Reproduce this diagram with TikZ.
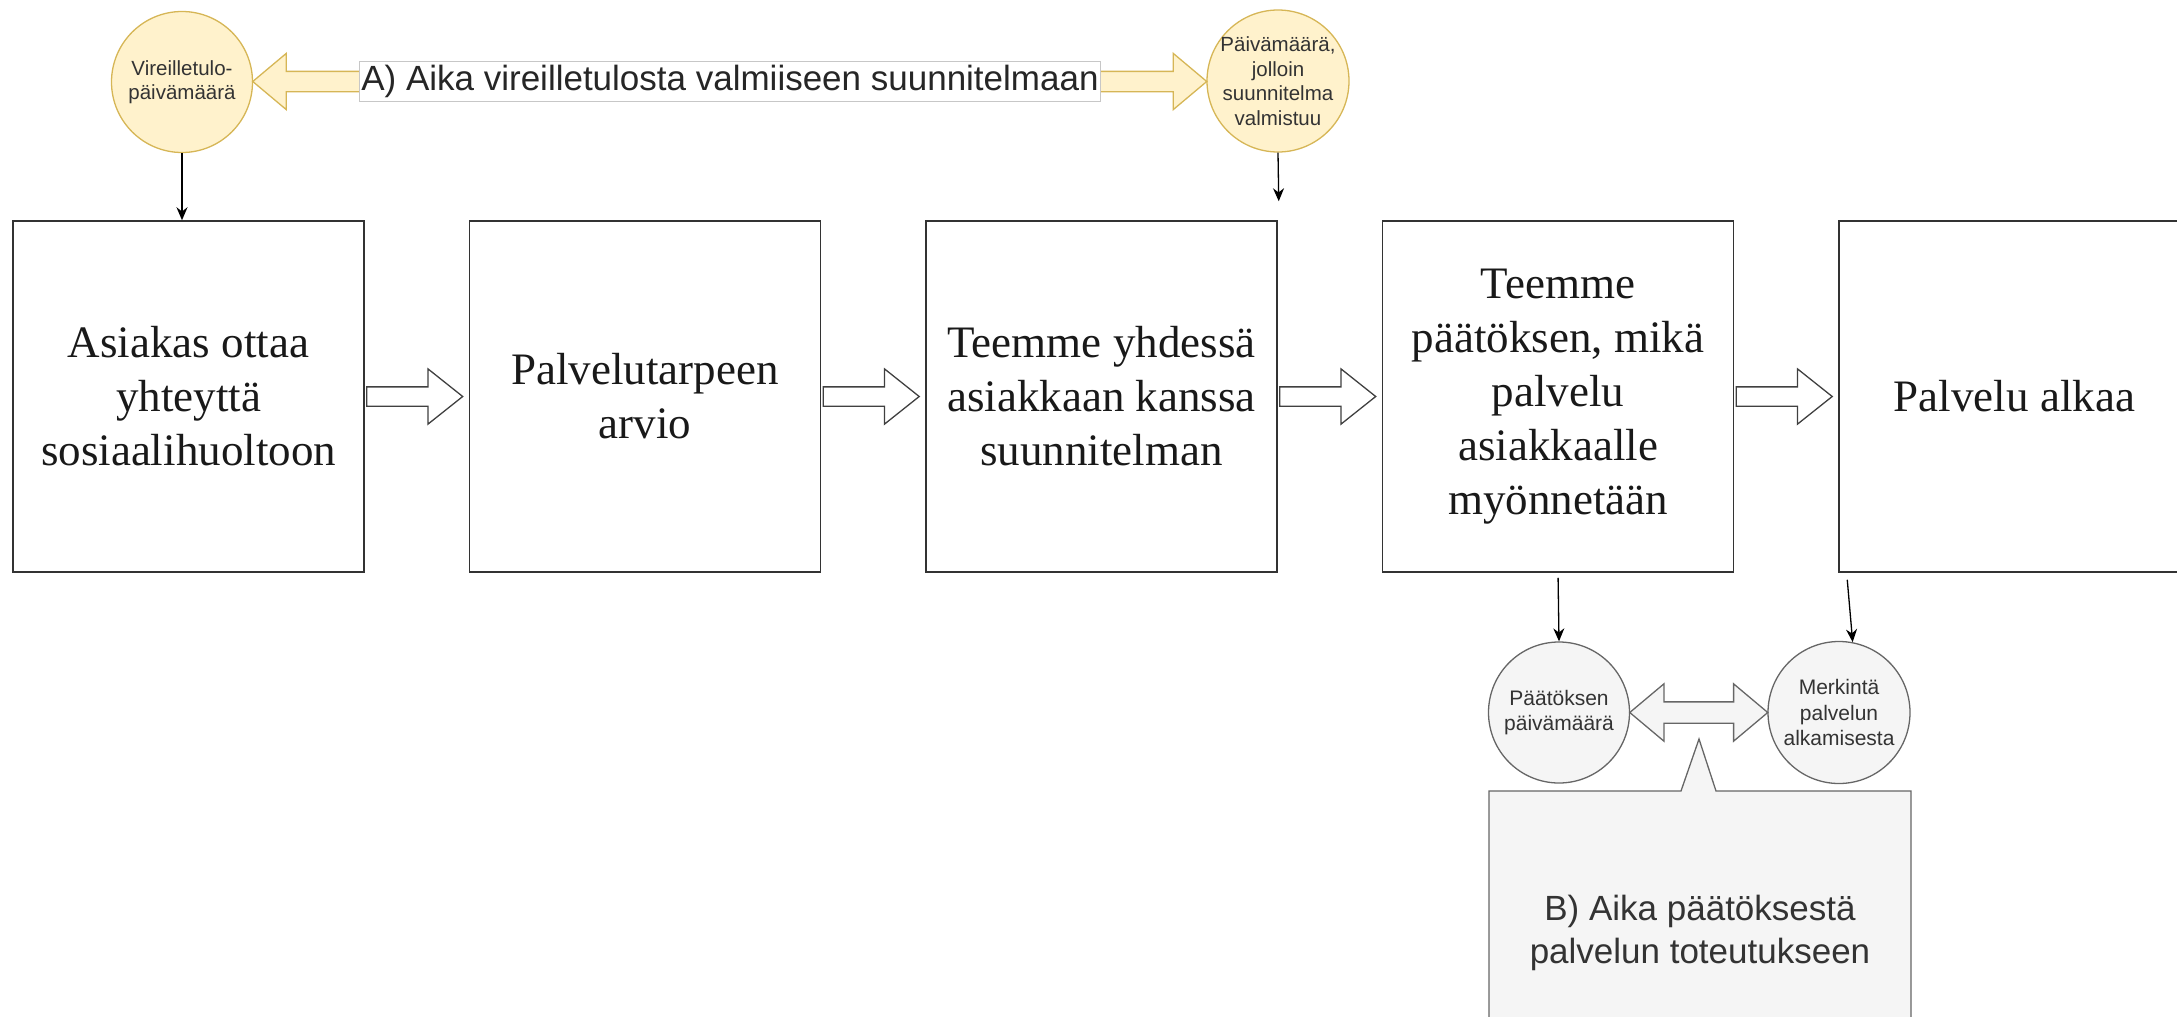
\documentclass[tikz,border=0pt]{standalone}
\usepackage{fontspec}
\setmainfont{Liberation Serif}
\setsansfont{Liberation Sans}
\usetikzlibrary{shapes.arrows,calc,arrows.meta}

\definecolor{keltainen}{HTML}{FFF2CC}
\definecolor{keltainenreuna}{HTML}{D6B656}
\definecolor{harmaa}{HTML}{F5F5F5}
\definecolor{harmaareuna}{HTML}{666666}
\definecolor{tekstiharmaa}{HTML}{333333}

\begin{document}
\begin{tikzpicture}[x=1pt,y=-1pt]
        \tikzset{
            vaihe/.style={
                draw=black!80,
                line width=1.5pt,
                minimum width=351pt,
                minimum height=351pt,
                inner sep=0pt,
                align=center,
                text=black!90,
                font=\fontsize{45}{54}\selectfont
            },
            pvm/.style={
                circle,
                draw=keltainenreuna,
                fill=keltainen,
                line width=1.3pt,
                minimum size=141pt,
                inner sep=0pt
            },
            pvmharmaa/.style={
                pvm,
                draw=harmaareuna,
                fill=harmaa
            },
            pvmteksti/.style={
                align=center,
                inner sep=0pt,
                text=tekstiharmaa,
                font=\sffamily\fontsize{20.5}{24.5}\selectfont
            },
            nuoli/.style={
                single arrow,
                draw=black!75,
                fill=white,
                line width=1.3pt,
                minimum height=96pt,
                minimum width=54pt,
                inner xsep=0pt,
                inner ysep=9pt,
                single arrow head extend=18pt,
                single arrow tip angle=77,
                anchor=tip
            },
            kaksinuoli/.style={
                double arrow,
                draw=#1reuna,
                fill=#1,
                line width=1.3pt,
                minimum width=55pt,
                inner xsep=0pt,
                inner ysep=9.5pt,
                double arrow head extend=18pt,
                double arrow tip angle=80
            },
            viiva/.style={
                -{Stealth[length=13pt,width=11pt]},
                line width=1.3pt,
                black
            }
        }
        \useasboundingbox (0,0) rectangle (2177,1017);
        \clip (0,0) rectangle (2177,1017);

        %vaiheet
        \node[vaihe] (b1) at (188.5,396.5) {Asiakas ottaa\\yhteyttä\\sosiaalihuoltoon};
        \node[vaihe] (b2) at (645,396.5) {Palvelutarpeen\\arvio};
        \node[vaihe] (b3) at (1101.5,396.5) {Teemme yhdessä\\asiakkaan kanssa\\suunnitelman};
        \node[vaihe] (b4) at (1558,396.5) {Teemme\\päätöksen, mikä\\palvelu\\asiakkaalle\\myönnetään};
        \node[vaihe] (b5) at (2014.5,396.5) {Palvelu alkaa};

        \node[nuoli] (n12) at ($(b2.west)+(-5,0)$) {};
        \node[nuoli] (n23) at ($(b3.west)+(-5,0)$) {};
        \node[nuoli] (n34) at ($(b4.west)+(-5,0)$) {};
        \node[nuoli] (n45) at ($(b5.west)+(-5,0)$) {};

        %A
        \node[pvm, label={[pvmteksti]center:Vireilletulo-\\päivämäärä}] (c1) at (182,82) {};
        \node[pvm, minimum size=142pt, label={[pvmteksti]center:Päivämäärä,\\jolloin\\suunnitelma\\valmistuu}] (c2) at (1278,81) {};
        \node[kaksinuoli=keltainen, minimum height=954pt] (nA) at ($(c1.east)!0.5!(c2.west)$) {};
        \node[draw=black!22, fill=white, line width=0.8pt, inner xsep=2pt, inner ysep=4pt,
              text=black!85, font=\sffamily\fontsize{35}{42}\selectfont] (aikaA) at (730,81.5)
              {A) Aika vireilletulosta valmiiseen suunnitelmaan};

        \coordinate (c2loppu) at ($(b3.north east)+(1,-19)$);
        \draw[viiva] (c1.south) -- (c1.south |- b1.north);
        \draw[viiva] (c2.south) -- (c2loppu);

        %B
        \node[pvmharmaa, label={[pvmteksti, font=\sffamily\fontsize{21}{25.5}\selectfont]center:Päätöksen\\päivämäärä}] (p1) at (1559,712.5) {};
        \node[pvmharmaa, minimum size=142pt, label={[pvmteksti, font=\sffamily\fontsize{21}{25.5}\selectfont]center:Merkintä\\palvelun\\alkamisesta}] (p2) at (1839,712.5) {};
        \node[kaksinuoli=harmaa, minimum height=138pt, inner ysep=10pt] (nB) at ($(p1.east)!0.5!(p2.west)$) {};

        \coordinate (b5alku) at ($(b5.south west)+(9,7)$);
        \draw[viiva, shorten <=5pt] (b4.south) -- (p1.north);
        \draw[viiva] (b5alku) -- (p2.79);

        \draw[draw=harmaareuna, fill=harmaa, line width=1.3pt]
            (1489,791) -- (1681,791) -- (1699,739) -- (1716,791) -- (1911,791)
            -- (1911,1080) -- (1489,1080) -- cycle;
        \node[align=center, text=tekstiharmaa, font=\sffamily\fontsize{35}{43}\selectfont] (aikaB) at (1700,933)
            {B) Aika päätöksestä\\palvelun toteutukseen};

    \end{tikzpicture}
\end{document}
